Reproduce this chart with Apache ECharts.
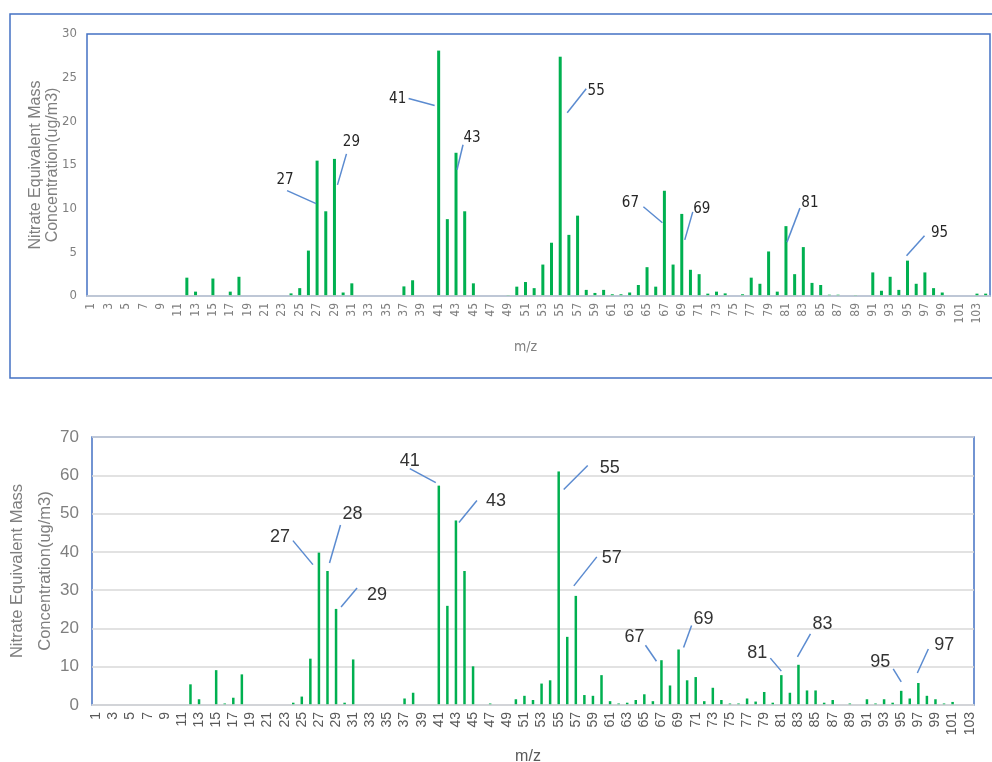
<!DOCTYPE html>
<html>
<head>
<meta charset="utf-8">
<script src="https://cdn.jsdelivr.net/npm/echarts@6/dist/echarts.min.js"></script>
<style>
	html, body { margin: 0; padding: 0; background: #fff; }
	#chart-box { width: 992px; height: 762px; }
</style>
</head>
<body>
<div id="chart-box"></div>
<script>
// m/z categories
var topCats = [1, 2, 3, 4, 5, 6, 7, 8, 9, 10, 11, 12, 13, 14, 15, 16, 17, 18, 19, 20,
	21, 22, 23, 24, 25, 26, 27, 28, 29, 30, 31, 32, 33, 34, 35, 36, 37, 38, 39, 40,
	41, 42, 43, 44, 45, 46, 47, 48, 49, 50, 51, 52, 53, 54, 55, 56, 57, 58, 59, 60,
	61, 62, 63, 64, 65, 66, 67, 68, 69, 70, 71, 72, 73, 74, 75, 76, 77, 78, 79, 80,
	81, 82, 83, 84, 85, 86, 87, 88, 89, 90, 91, 92, 93, 94, 95, 96, 97, 98, 99, 100,
	101, 102, 103, 104];
var bottomCats = [1, 2, 3, 4, 5, 6, 7, 8, 9, 10, 11, 12, 13, 14, 15, 16, 17, 18, 19, 20,
	21, 22, 23, 24, 25, 26, 27, 28, 29, 30, 31, 32, 33, 34, 35, 36, 37, 38, 39, 40,
	41, 42, 43, 44, 45, 46, 47, 48, 49, 50, 51, 52, 53, 54, 55, 56, 57, 58, 59, 60,
	61, 62, 63, 64, 65, 66, 67, 68, 69, 70, 71, 72, 73, 74, 75, 76, 77, 78, 79, 80,
	81, 82, 83, 84, 85, 86, 87, 88, 89, 90, 91, 92, 93, 94, 95, 96, 97, 98, 99, 100,
	101, 102, 103];

// concentrations (ug/m3)
var topValues = [0, 0, 0, 0, 0, 0, 0, 0, 0, 0,
	0, 2.1, 0.5, 0, 2.0, 0, 0.5, 2.2, 0, 0,
	0, 0, 0, 0.3, 0.9, 5.2, 15.5, 9.7, 15.7, 0.4,
	1.45, 0, 0, 0, 0, 0, 1.1, 1.8, 0, 0,
	28.1, 8.8, 16.4, 9.7, 1.45, 0, 0, 0, 0.1, 1.07,
	1.6, 0.9, 3.6, 6.1, 27.4, 7.0, 9.2, 0.7, 0.35, 0.7,
	0.2, 0.2, 0.4, 1.26, 3.3, 1.07, 12.05, 3.6, 9.4, 3.0,
	2.5, 0.27, 0.5, 0.3, 0, 0.2, 2.1, 1.4, 5.1, 0.5,
	8.0, 2.5, 5.6, 1.5, 1.26, 0.15, 0.15, 0, 0.1, 0,
	2.7, 0.6, 2.2, 0.7, 4.05, 1.4, 2.7, 0.9, 0.4, 0,
	0, 0, 0.27, 0.27];
var bottomValues = [0, 0, 0, 0, 0, 0, 0, 0, 0, 0,
	0, 5.4, 1.5, 0, 9.1, 0.4, 1.9, 8.0, 0, 0,
	0, 0, 0, 0.6, 2.2, 12.1, 39.8, 35.0, 25.1, 0.6,
	11.9, 0, 0, 0, 0, 0, 1.7, 3.2, 0, 0,
	57.3, 25.9, 48.2, 35.0, 10.1, 0, 0.4, 0, 0, 1.5,
	2.4, 1.3, 5.6, 6.45, 61.0, 17.8, 28.5, 2.6, 2.4, 7.8,
	1.0, 0.4, 0.6, 1.3, 2.8, 1.0, 11.7, 5.1, 14.5, 6.45,
	7.3, 1.0, 4.5, 1.3, 0.4, 0.4, 1.7, 0.9, 3.4, 0.6,
	7.8, 3.2, 10.5, 3.8, 3.8, 0.6, 1.3, 0, 0.4, 0,
	1.5, 0.4, 1.5, 0.6, 3.7, 1.7, 5.75, 2.4, 1.5, 0.4,
	0.8, 0, 0];

// annotated peaks
var topPeaks = [27, 29, 41, 43, 55, 67, 69, 81, 95];
var bottomPeaks = [27, 28, 29, 41, 43, 55, 57, 67, 69, 81, 83, 95, 97];

// callouts, relative to bar top centre: label, line start, line end (px)
var topCallout = {
	27: [[-32, 19], [-30, 30], [-1, 43]],
	29: [[17, -17], [12, -5], [3, 26]],
	41: [[-41, 49], [-30, 48], [-4, 55]],
	43: [[16, -15], [7, -8], [1, 17]],
	55: [[36, 34], [26, 32], [7, 56]],
	67: [[-34, 12], [-21, 16], [-2, 32]],
	69: [[20, -5], [11, -2], [3, 26]],
	81: [[24, -23], [14, -18], [1, 16]],
	95: [[32, -28], [17, -25], [-1, -5]]
};
var bottomCallout = {
	27: [[-39, -16], [-26, -12], [-6, 12]],
	28: [[25, -57], [13, -46], [2, -8]],
	29: [[41, -14], [21, -21], [5, -2]],
	41: [[-29, -25], [-29, -17], [-3, -3]],
	43: [[40, -19], [21, -20], [3, 2]],
	55: [[51, -3], [29, -6], [5, 18]],
	57: [[36, -38], [21, -39], [-2, -10]],
	67: [[-27, -23], [-16, -15], [-5, 1]],
	69: [[25, -30], [13, -24], [5, -2]],
	81: [[-24, -22], [-11, -17], [0, -4]],
	83: [[24, -41], [12, -31], [-1, -8]],
	95: [[-21, -29], [-8, -22], [0, -9]],
	97: [[26, -38], [10, -34], [-1, -10]]
};

var chart = echarts.init(document.getElementById("chart-box"));

function buildData(cats, values, peaks) {
	return values.map(function (v, i) {
		if (peaks.indexOf(cats[i]) >= 0) {
			return {value: v, label: {show: true}};
		}
		return v;
	});
}

function calloutLayout(cats, callouts) {
	return function (params) {
		var c = callouts[cats[params.dataIndex]];
		if (!c) {
			return;
		}
		return {
			x: params.rect.x + params.rect.width / 2 + c[0][0],
			y: params.rect.y + c[0][1],
			align: "center",
			verticalAlign: "middle"
		};
	};
}

var narrow = "'DejaVu Sans Condensed', 'Liberation Sans Narrow', 'Liberation Sans', sans-serif";
var plain = "'Liberation Sans', Arial, sans-serif";

var frame = {
	type: "rect",
	shape: {x: 10, y: 14, width: 1000, height: 364},
	style: {fill: "none", stroke: "#4472C4", lineWidth: 1.5},
	silent: true
};

var option = {
	animation: false,
	graphic: [frame],
	grid: [
		{left: 87, top: 34, width: 903, height: 262, show: true, borderColor: "#4472C4", borderWidth: 1.5,
			containLabel: false, outerBoundsMode: "none"},
		{left: 92, top: 437, width: 882, height: 268, show: true, borderColor: "#4472C4", borderWidth: 1.5,
			containLabel: false, outerBoundsMode: "none"}
	],
	xAxis: [
		{
			gridIndex: 0,
			type: "category",
			data: topCats,
			name: "m/z",
			nameLocation: "middle",
			nameGap: 44,
			nameMoveOverlap: false,
			nameTextStyle: {color: "#7f7f7f", fontSize: 14, fontFamily: narrow, padding: [0, 26, 0, 0]},
			axisLine: {lineStyle: {color: "#d9d9d9", width: 1.5}},
			axisTick: {show: false},
			axisLabel: {interval: 1, rotate: 90, margin: 7, color: "#7f7f7f", fontSize: 12, fontFamily: narrow},
			z: 5
		},
		{
			gridIndex: 1,
			type: "category",
			data: bottomCats,
			name: "m/z",
			nameLocation: "middle",
			nameGap: 44,
			nameMoveOverlap: false,
			nameTextStyle: {color: "#595959", fontSize: 16, fontFamily: plain, padding: [0, 10, 0, 0]},
			axisLine: {lineStyle: {color: "#d9d9d9", width: 1.5}},
			axisTick: {show: false},
			axisLabel: {interval: 1, rotate: 90, margin: 7, color: "#595959", fontSize: 14, fontFamily: plain},
			z: 5
		}
	],
	yAxis: [
		{
			gridIndex: 0,
			type: "value",
			min: 0,
			max: 30,
			interval: 5,
			name: "Nitrate Equivalent Mass\nConcentration(ug/m3)",
			nameLocation: "middle",
			nameGap: 26,
			nameMoveOverlap: false,
			nameTextStyle: {color: "#7f7f7f", fontSize: 16, lineHeight: 17, fontFamily: plain},
			axisLine: {show: false},
			axisTick: {show: false},
			splitLine: {show: false},
			axisLabel: {margin: 10, color: "#7f7f7f", fontSize: 13, fontFamily: narrow}
		},
		{
			gridIndex: 1,
			type: "value",
			min: 0,
			max: 70,
			interval: 10,
			name: "Nitrate Equivalent Mass\nConcentration(ug/m3)",
			nameLocation: "middle",
			nameGap: 33,
			nameMoveOverlap: false,
			nameTextStyle: {color: "#7f7f7f", fontSize: 16.5, lineHeight: 28, fontFamily: plain},
			axisLine: {show: false},
			axisTick: {show: false},
			splitLine: {lineStyle: {color: "#d9d9d9", width: 1.5}},
			axisLabel: {margin: 13, color: "#7f7f7f", fontSize: 17, fontFamily: plain}
		}
	],
	series: [
		{
			name: "top",
			type: "bar",
			xAxisIndex: 0,
			yAxisIndex: 0,
			barWidth: 3,
			itemStyle: {color: "#00B050"},
			data: buildData(topCats, topValues, topPeaks),
			label: {show: false, position: "top", formatter: "{b}", color: "#262626", fontSize: 15, fontFamily: narrow},
			labelLayout: calloutLayout(topCats, topCallout)
		},
		{
			name: "bottom",
			type: "bar",
			xAxisIndex: 1,
			yAxisIndex: 1,
			barWidth: 2.5,
			itemStyle: {color: "#00B050"},
			data: buildData(bottomCats, bottomValues, bottomPeaks),
			label: {show: false, position: "top", formatter: "{b}", color: "#333333", fontSize: 18, fontFamily: plain},
			labelLayout: calloutLayout(bottomCats, bottomCallout)
		}
	]
};

chart.setOption(option);

// leader lines, placed from the bar tops the axes give
var leaders = [];
function addLeaders(gridIndex, cats, values, callouts) {
	Object.keys(callouts).forEach(function (k) {
		var i = cats.indexOf(Number(k));
		var p = chart.convertToPixel({gridIndex: gridIndex}, [i, values[i]]);
		var c = callouts[k];
		leaders.push({
			type: "line",
			shape: {x1: p[0] + c[1][0], y1: p[1] + c[1][1], x2: p[0] + c[2][0], y2: p[1] + c[2][1]},
			style: {stroke: "#5B8BD0", lineWidth: 1.5},
			silent: true,
			z: 10
		});
	});
}
addLeaders(0, topCats, topValues, topCallout);
addLeaders(1, bottomCats, bottomValues, bottomCallout);
chart.setOption({graphic: [frame].concat(leaders)});
</script>
</body>
</html>
